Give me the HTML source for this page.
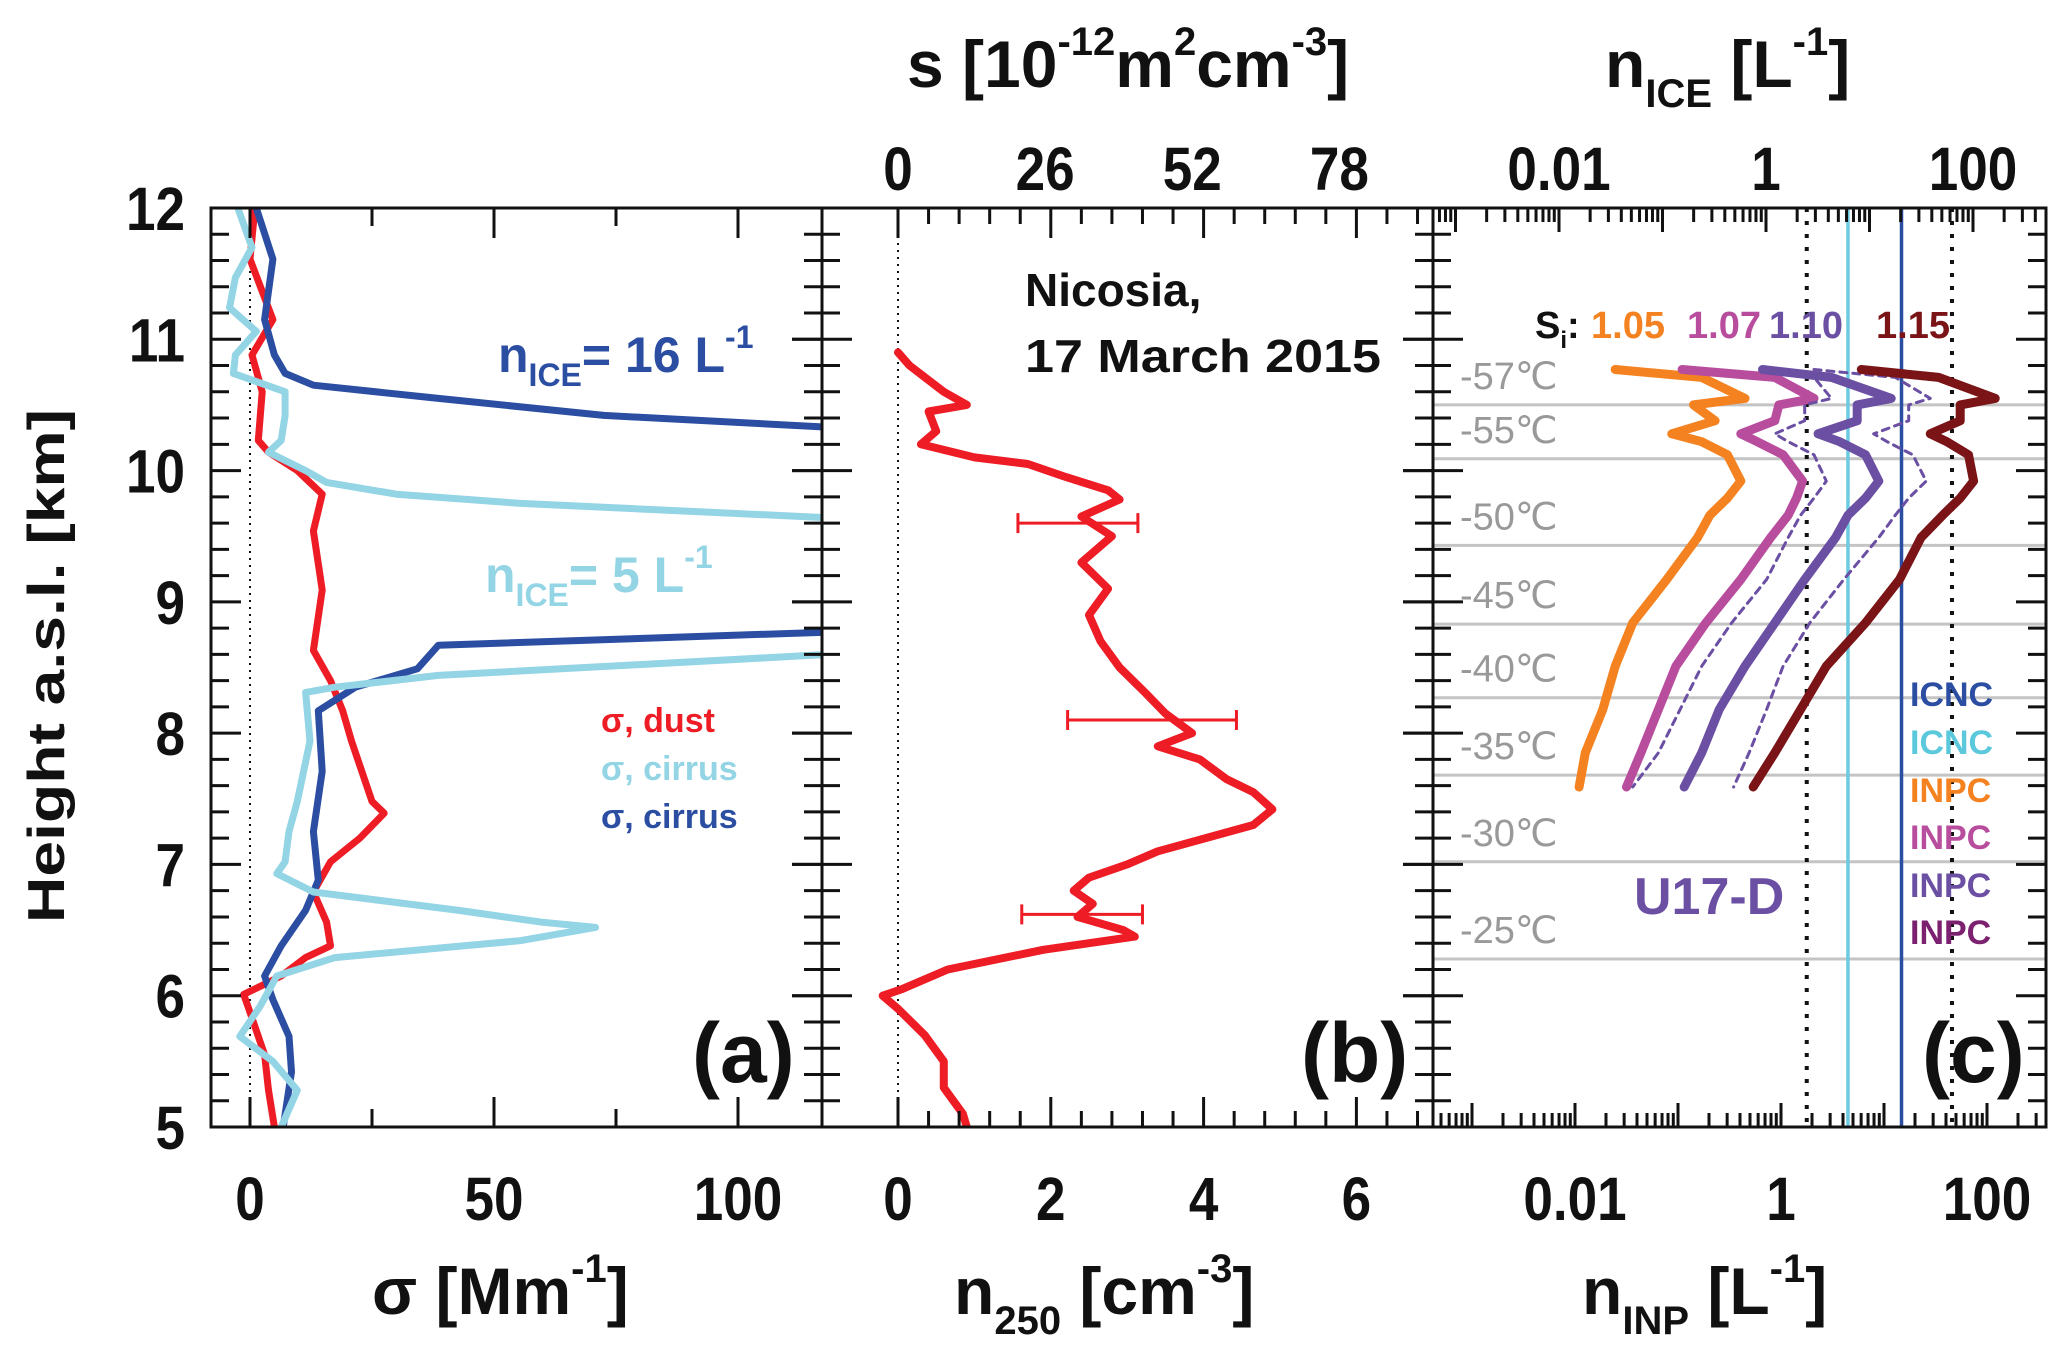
<!DOCTYPE html>
<html><head><meta charset="utf-8">
<style>
html,body{margin:0;padding:0;background:#fff;}
svg{display:block;}
text{font-family:"Liberation Sans Narrow","Liberation Sans",sans-serif;font-weight:bold;}
.w{font-family:"Liberation Sans",sans-serif;font-weight:bold;}
</style></head>
<body>
<svg id="fig" width="2067" height="1353" viewBox="0 0 2067 1353" xmlns="http://www.w3.org/2000/svg">
<defs>
<clipPath id="clipA"><rect x="211" y="208" width="611" height="919"/></clipPath>
<clipPath id="clipB"><rect x="822" y="208" width="611" height="919"/></clipPath>
<clipPath id="clipC"><rect x="1433" y="208" width="613" height="919"/></clipPath>
</defs>
<g id="gridC"></g>
<g id="marks"></g>
<g id="ticks"></g>
<g id="labels"></g>

<rect x="211" y="208" width="611" height="919" fill="none" stroke="#111" stroke-width="3"/>
<rect x="822" y="208" width="611" height="919" fill="none" stroke="#111" stroke-width="3"/>
<rect x="1433" y="208" width="613" height="919" fill="none" stroke="#111" stroke-width="3"/>

<text class="w" transform="translate(64,666) rotate(-90)" text-anchor="middle" font-size="52" fill="#111" textLength="514" lengthAdjust="spacingAndGlyphs">Height a.s.l. [km]</text>

<text x="372" y="1314" font-size="66" fill="#111">σ [Mm<tspan font-size="40" dy="-32">-1</tspan><tspan dy="32">]</tspan></text>
<text x="954" y="1314" font-size="66" fill="#111">n<tspan font-size="40" dy="20">250</tspan><tspan dy="-20"> [cm</tspan><tspan font-size="40" dy="-32">-3</tspan><tspan dy="32">]</tspan></text>
<text x="1582" y="1314" font-size="66" fill="#111">n<tspan font-size="40" dy="20">INP</tspan><tspan dy="-20"> [L</tspan><tspan font-size="40" dy="-32">-1</tspan><tspan dy="32">]</tspan></text>

<text x="907" y="87" font-size="66" fill="#111">s [10<tspan font-size="40" dy="-32">-12</tspan><tspan dy="32">m</tspan><tspan font-size="40" dy="-32">2</tspan><tspan dy="32">cm</tspan><tspan font-size="40" dy="-32">-3</tspan><tspan dy="32">]</tspan></text>
<text x="1605" y="87" font-size="66" fill="#111">n<tspan font-size="40" dy="20">ICE</tspan><tspan dy="-20"> [L</tspan><tspan font-size="40" dy="-32">-1</tspan><tspan dy="32">]</tspan></text>

<text class="w" x="498" y="372" font-size="50" fill="#2b4ea2">n<tspan font-size="32" dy="14">ICE</tspan><tspan dy="-14">= 16 L</tspan><tspan font-size="32" dy="-24">-1</tspan></text>
<text class="w" x="485" y="592" font-size="50" fill="#93d4e5">n<tspan font-size="32" dy="14">ICE</tspan><tspan dy="-14">= 5 L</tspan><tspan font-size="32" dy="-24">-1</tspan></text>

<text class="w" x="601" y="732" font-size="34" fill="#ee1c25">σ, dust</text>
<text class="w" x="601" y="780" font-size="34" fill="#93d4e5">σ, cirrus</text>
<text class="w" x="601" y="828" font-size="34" fill="#2b4ea2">σ, cirrus</text>

<text class="w" x="692" y="1082" font-size="84" fill="#111">(a)</text>
<text class="w" x="1301" y="1082" font-size="84" fill="#111">(b)</text>
<text class="w" x="1922" y="1082" font-size="84" fill="#111">(c)</text>

<text class="w" x="1025" y="306" font-size="46" fill="#111">Nicosia,</text>
<text class="w" x="1025" y="372" font-size="46" fill="#111" textLength="356" lengthAdjust="spacingAndGlyphs">17 March 2015</text>

<text class="w" x="1535" y="338" font-size="38" fill="#111">S<tspan font-size="24" dy="10">i</tspan><tspan dy="-10">:</tspan></text>
<text class="w" x="1591" y="338" font-size="38" fill="#f58220">1.05</text>
<text class="w" x="1687" y="338" font-size="38" fill="#b84d9e">1.07</text>
<text class="w" x="1769" y="338" font-size="38" fill="#6a4fa3">1.10</text>
<text class="w" x="1876" y="338" font-size="38" fill="#7a1416">1.15</text>

<text class="w" x="1910" y="706" font-size="34" fill="#2b4ea2">ICNC</text>
<text class="w" x="1910" y="754" font-size="34" fill="#5bc8dc">ICNC</text>
<text class="w" x="1910" y="802" font-size="34" fill="#f58220">INPC</text>
<text class="w" x="1910" y="849" font-size="34" fill="#b84d9e">INPC</text>
<text class="w" x="1910" y="897" font-size="34" fill="#6a4fa3">INPC</text>
<text class="w" x="1910" y="944" font-size="34" fill="#7b2170">INPC</text>

<text class="w" x="1634" y="914" font-size="52" fill="#6a4fa3">U17-D</text>
</svg>
<script>
// ---- panel a data (height km, sigma Mm-1)
var dustH=[12.0,11.61,11.15,10.88,10.6,10.23,10.14,10.0,9.82,9.54,9.09,8.63,8.4,8.17,7.94,7.48,7.39,7.2,7.02,6.79,6.56,6.38,6.29,6.15,6.01,5.83,5.55,5.28,5.0];
var dustSigma=[1,0,4.7,0.4,2.5,1.7,3.8,9.7,14.8,13,14.8,13,16.5,19,20.8,25,27.5,22.5,16.5,13,15.7,16.5,11.4,6.4,-1.3,0.4,3,3.8,5];
var cirrusLightH=[12.0,11.7,11.47,11.24,11.06,10.88,10.74,10.6,10.42,10.23,10.14,10.0,9.91,9.82,9.75,9.64,9.55,8.7,8.6,8.44,8.35,8.31,7.94,7.48,7.25,7.02,6.93,6.79,6.65,6.56,6.52,6.42,6.29,6.15,5.92,5.69,5.5,5.28,5.0];
var cirrusLightSigma=[-2.5,0.4,-3,-4.2,1.3,-3,-3.4,7.2,7.2,6.4,3.8,11.4,15.7,30,55.5,118.6,200,200,118.6,38.6,17.4,11.4,12.3,9.7,8,7.2,5.5,13,42.8,59.8,70.8,55.5,17.4,5.5,2.1,-2.1,4.7,9.7,6.4];
var cirrusDarkH=[12.0,11.61,11.15,10.88,10.74,10.65,10.55,10.42,10.33,10.2,8.9,8.77,8.67,8.49,8.35,8.17,7.71,7.25,6.88,6.65,6.38,6.15,5.97,5.69,5.42,5.0];
var cirrusDarkSigma=[1.3,4.7,3,5,7.2,13,38.6,72.5,118.6,250,250,118.6,38.6,34.3,21.6,14,14.8,13,14,11.4,6.4,3,4.7,8,8.5,6.8];
// ---- panel b data
var n250H=[10.9,10.8,10.6,10.5,10.45,10.3,10.2,10.1,10.05,9.95,9.85,9.78,9.65,9.5,9.3,9.1,8.9,8.7,8.5,8.3,8.15,8.0,7.9,7.8,7.65,7.55,7.42,7.3,7.1,7.0,6.9,6.8,6.7,6.6,6.5,6.45,6.35,6.2,6.05,6.0,5.9,5.7,5.5,5.3,5.1,5.0];
var n250Vals=[0,0.15,0.6,0.9,0.4,0.5,0.3,1.0,1.7,2.2,2.75,2.9,2.4,2.8,2.4,2.75,2.5,2.65,2.9,3.25,3.5,3.85,3.4,3.95,4.3,4.65,4.9,4.65,3.4,3.0,2.5,2.3,2.55,2.35,2.95,3.1,1.9,0.65,0.05,-0.2,0,0.35,0.6,0.6,0.85,0.9];
var errH=[9.6,8.1,6.62];
var errLo=[1.57,2.22,1.62];
var errHi=[3.14,4.43,3.2];
// ---- panel c data (log10 of n_INP in L-1)
var inpH=[10.77,10.71,10.55,10.50,10.38,10.28,10.22,10.12,9.92,9.79,9.66,9.49,9.17,8.84,8.51,8.18,7.85,7.59];
var logInpc105=[-1.61,-0.77,-0.35,-0.85,-0.64,-1.06,-0.77,-0.52,-0.39,-0.52,-0.69,-0.81,-1.11,-1.44,-1.61,-1.73,-1.90,-1.96];
var logInpc107=[-0.96,-0.06,0.32,-0.02,-0.06,-0.39,-0.23,0.02,0.21,0.15,0.07,-0.10,-0.39,-0.73,-1.02,-1.19,-1.36,-1.50];
var logInpc110=[-0.18,0.49,1.07,0.74,0.74,0.36,0.57,0.82,0.95,0.82,0.65,0.53,0.23,-0.06,-0.35,-0.60,-0.77,-0.94];
var logInpcDashA=[-0.14,0.32,0.49,0.23,0.23,-0.06,0.07,0.32,0.44,0.32,0.19,0.07,-0.14,-0.48,-0.77,-0.98,-1.19,-1.44];
var logInpcDashB=[0.32,1.11,1.45,1.24,1.24,0.90,1.03,1.28,1.41,1.24,1.11,0.95,0.61,0.28,0.02,-0.14,-0.31,-0.46];
var logInpc115=[0.78,1.53,2.08,1.74,1.74,1.45,1.61,1.82,1.87,1.74,1.57,1.36,1.15,0.82,0.44,0.19,-0.06,-0.27];
var vlineLog=[0.25,0.65,1.17,1.66];
var tempLineH=[10.50,10.09,9.43,8.83,8.27,7.68,7.02,6.28];
var tempLabels=["-57℃","-55℃","-50℃","-45℃","-40℃","-35℃","-30℃","-25℃"];
var yTicks=[5,6,7,8,9,10,11,12];
var aTicks=[0,50,100];
var bTicks=[0,2,4,6];
var sTicks=[0,26,52,78];
var cTicks=["0.01","1","100"];

var NS="http://www.w3.org/2000/svg";
function Y(h){return 208+(12-h)*131.286;}
function XA(s){return 250+s*4.88;}
function XB(n){return 898+n*76.4;}
function XC(l){return 1575+(l+2)*103;}
function XCtop(l){return 1766+l*103.5;}
function mk(tag,attrs,parent){var e=document.createElementNS(NS,tag);for(var k in attrs)e.setAttribute(k,attrs[k]);parent.appendChild(e);return e;}
var marks=document.getElementById('marks'),ticks=document.getElementById('ticks'),labels=document.getElementById('labels'),gridC=document.getElementById('gridC');

function line(xs,hs,fx,color,w,clip,name,dash){
  var d='';for(var i=0;i<xs.length;i++){d+=(i?'L':'M')+fx(xs[i]).toFixed(1)+' '+Y(hs[i]).toFixed(1);}
  var p=mk('path',{d:d,fill:'none',stroke:color,'stroke-width':w,'stroke-linejoin':'round','stroke-linecap':'round','clip-path':'url(#'+clip+')'},marks);
  if(dash)p.setAttribute('stroke-dasharray',dash);
  
  
}
for(var i=0;i<tempLineH.length;i++){
  var g=mk('line',{x1:1433,x2:2046,y1:Y(tempLineH[i]),y2:Y(tempLineH[i]),stroke:'#c4c4c4','stroke-width':3},gridC);
  
  
  var t=mk('text',{x:1460,y:Y(tempLineH[i])-16,'font-size':38,fill:'#999','class':'w'},gridC);
  t.style.fontWeight='normal';
  t.textContent=tempLabels[i];
  
  
}
var z1=mk('line',{x1:XA(0),x2:XA(0),y1:208,y2:1127,stroke:'#111','stroke-width':2,'stroke-dasharray':'2 5'},marks);


var z2=mk('line',{x1:XB(0),x2:XB(0),y1:208,y2:1127,stroke:'#111','stroke-width':2,'stroke-dasharray':'2 5'},marks);


var vcol=['#111','#6ccbe0','#2b4ea2','#111'];
for(var i=0;i<vlineLog.length;i++){
  var v=mk('line',{x1:XC(vlineLog[i]),x2:XC(vlineLog[i]),y1:208,y2:1127,stroke:vcol[i],'stroke-width':(i==0||i==3)?4:3.5},marks);
  if(i==0||i==3)v.setAttribute('stroke-dasharray','4 9');
  
  
}
line(dustSigma,dustH,XA,'#ee1c25',7,'clipA','dust-line');
line(cirrusDarkSigma,cirrusDarkH,XA,'#2b4ea2',7,'clipA','cirrus-dark-line');
line(cirrusLightSigma,cirrusLightH,XA,'#93d4e5',7,'clipA','cirrus-light-line');
line(n250Vals,n250H,XB,'#ee1c25',8,'clipB','n250-line');
for(var i=0;i<errH.length;i++){
  var y=Y(errH[i]);
  var e=mk('path',{d:'M'+XB(errLo[i])+' '+y+'H'+XB(errHi[i])+'M'+XB(errLo[i])+' '+(y-10)+'V'+(y+10)+'M'+XB(errHi[i])+' '+(y-10)+'V'+(y+10),stroke:'#ee1c25','stroke-width':3,fill:'none'},marks);
  
  
}
line(logInpc105,inpH,XC,'#f58220',9,'clipC','inpc-105-line');
line(logInpc107,inpH,XC,'#b84d9e',9,'clipC','inpc-107-line');
line(logInpcDashA,inpH,XC,'#6a4fa3',3,'clipC','inpc-dashed-a','7 6');
line(logInpc110,inpH,XC,'#6a4fa3',9,'clipC','inpc-110-line');
line(logInpcDashB,inpH,XC,'#6a4fa3',3,'clipC','inpc-dashed-b','7 6');
line(logInpc115,inpH,XC,'#7a1416',9,'clipC','inpc-115-line');

function tk(x1,y1,x2,y2){mk('line',{x1:x1,y1:y1,x2:x2,y2:y2,stroke:'#111','stroke-width':3},ticks);}
var panels=[[211,822],[822,1433],[1433,2046]];
for(var p=0;p<3;p++){
  for(var h=5;h<=12.001;h+=0.2){
    var major=Math.abs(h-Math.round(h))<0.01, L=major?30:18, y=Y(h);
    tk(panels[p][0],y,panels[p][0]+L,y);tk(panels[p][1],y,panels[p][1]-L,y);
    if(p>0&&major)tk(panels[p][0],y,panels[p][0]-30,y);
  }
}
for(var s=0;s<=117;s+=25){var x=XA(s),L=(s%50==0)?30:18;tk(x,1127,x,1127-L);tk(x,208,x,208+L);}
for(var n=0;n<=7.2;n+=0.4){var x=XB(n);if(x>1433)break;var L=(Math.abs(n/2-Math.round(n/2))<0.01)?30:16;tk(x,1127,x,1127-L);tk(x,208,x,208+L);}
for(var d=-4;d<=3;d++){for(var m=1;m<10;m++){var l=d+Math.log10(m),L=m==1?24:14;var x=XC(l);if(x>1436&&x<2043)tk(x,1127,x,1127-L);var xt=XCtop(l);if(xt>1436&&xt<2043)tk(xt,208,xt,208+L);}}

function lab(txt,x,y,anchor,name){
  var t=mk('text',{x:x,y:y,'font-size':61,fill:'#111','text-anchor':anchor,transform:'matrix(0.87,0,0,1,'+(x*0.13).toFixed(2)+',0)'},labels);
  t.textContent=txt;
  
  
}
for(var i=0;i<yTicks.length;i++)lab(String(yTicks[i]),185,Y(yTicks[i])+22,'end','y-tick-label');
for(var i=0;i<aTicks.length;i++)lab(String(aTicks[i]),XA(aTicks[i]),1220,'middle','x-tick-label-a');
for(var i=0;i<bTicks.length;i++)lab(String(bTicks[i]),XB(bTicks[i]),1220,'middle','x-tick-label-b');
for(var i=0;i<cTicks.length;i++)lab(cTicks[i],XC(Math.log10(parseFloat(cTicks[i]))),1220,'middle','x-tick-label-c');
for(var i=0;i<sTicks.length;i++)lab(String(sTicks[i]),XB(sTicks[i]/13.5),190,'middle','top-tick-label-s');
for(var i=0;i<cTicks.length;i++)lab(cTicks[i],XCtop(Math.log10(parseFloat(cTicks[i]))),190,'middle','top-tick-label-nice');
</script>
</body></html>
